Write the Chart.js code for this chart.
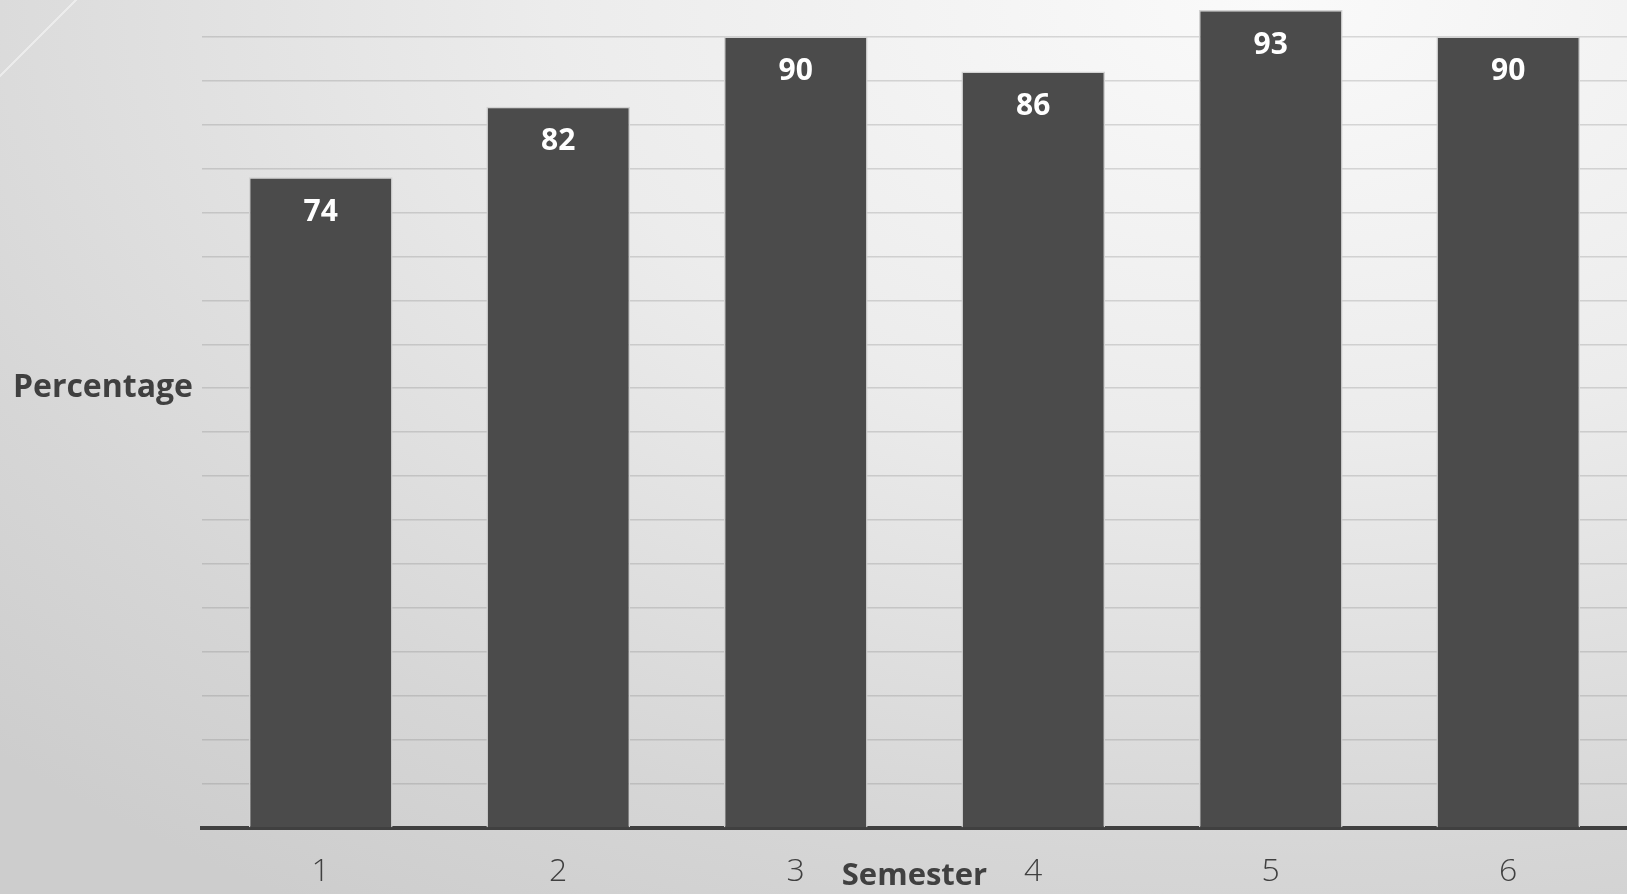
<!DOCTYPE html>
<html>
<head>
<meta charset="utf-8">
<script src="https://cdn.jsdelivr.net/npm/chart.js@4.4.1/dist/chart.umd.min.js"></script>
<style>
  html, body { margin: 0; padding: 0; }
  body {
    width: 1627px; height: 894px; overflow: hidden;
    background:
      linear-gradient(135deg, transparent 53px, rgba(255,255,255,0.45) 53px, rgba(255,255,255,0.45) 54.5px, transparent 54.5px),
      radial-gradient(ellipse 110% 120% at 78% 0%, #fafafa 0%, #ececec 40%, #d6d6d6 80%, #cdcdcd 100%);
  }
  #wrap { position: relative; width: 1627px; height: 894px; }
</style>
</head>
<body>
<div id="wrap"><canvas id="semesterChart"></canvas></div>
<script>
// --- Data ---
const semesters = ['1', '2', '3', '4', '5', '6'];
const percentages = [74, 82, 90, 86, 93, 90];
const yTitleAt = 50;

const TEXT = '#404040';

// --- Label di dalam bar ---
const barLabels = {
    id: 'barLabels',
    afterDatasetsDraw(chart) {
        const ctx = chart.ctx;
        const meta = chart.getDatasetMeta(0);
        ctx.save();
        ctx.fillStyle = '#ffffff';
        ctx.font = 'bold 30px "Open Sans", sans-serif';
        ctx.textAlign = 'center';
        ctx.textBaseline = 'middle';
        meta.data.forEach((bar, i) => {
            ctx.fillText(String(percentages[i]), bar.x, bar.y + 35);
        });
        ctx.restore();
    }
};

new Chart(document.getElementById('semesterChart'), {
    type: 'bar',
    data: {
        labels: semesters,
        datasets: [{
            data: percentages,
            backgroundColor: '#4b4b4b',
            borderColor: '#d2d2d2',
            borderWidth: 1.5,
            categoryPercentage: 0.605,
            barPercentage: 1.0
        }]
    },
    options: {
        responsive: true,
        maintainAspectRatio: false,
        animation: false,
        layout: { padding: { top: 0, left: 0, bottom: 0, right: -3 } },
        plugins: {
            legend: { display: false },
            tooltip: { enabled: false }
        },
        scales: {
            x: {
                z: 1,
                grid: { display: false, drawTicks: false },
                border: { display: true, color: TEXT, width: 4 },
                ticks: {
                    padding: 25,
                    color: TEXT,
                    font: { family: '"Open Sans", sans-serif', size: 32, weight: 300 }
                },
                title: {
                    display: true,
                    text: 'Semester',
                    color: TEXT,
                    font: { family: '"Open Sans", sans-serif', size: 31, weight: 'bold' },
                    padding: { top: 0, bottom: -1 }
                },
                afterFit: (scale) => { scale.height = 66; }
            },
            y: {
                z: 1,
                min: 0,
                max: 93.05,
                border: { display: false },
                grid: {
                    drawTicks: false,
                    lineWidth: 1.5,
                    color: (ctx) => (ctx.tick && ctx.tick.value % 5 === 0 && ctx.tick.value > 0)
                        ? 'rgba(120,120,120,0.26)' : 'rgba(0,0,0,0)'
                },
                ticks: {
                    stepSize: 5,
                    padding: 9,
                    color: TEXT,
                    callback: (value) => value === yTitleAt ? 'Percentage' : '',
                    font: (ctx) => (ctx.tick && ctx.tick.value === yTitleAt)
                        ? { family: '"Open Sans", sans-serif', size: 32, weight: 'bold' }
                        : { size: 1 }
                },
                afterFit: (scale) => { scale.width = 202; }
            }
        }
    },
    plugins: [barLabels]
});
</script>
</body>
</html>
